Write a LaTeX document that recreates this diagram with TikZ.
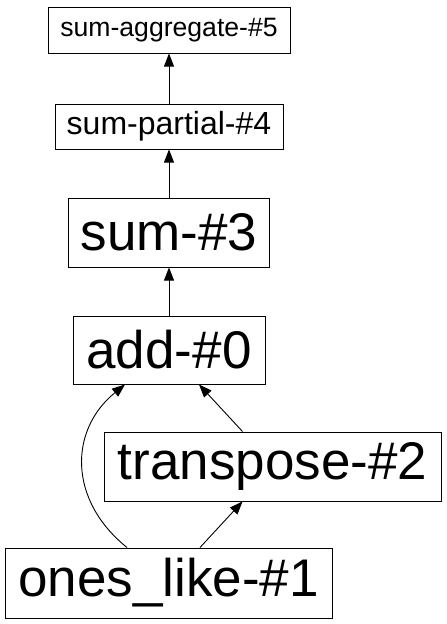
\documentclass[tikz,border=0pt]{standalone}
\usepackage{fontspec}
\setmainfont{Liberation Sans}
\usetikzlibrary{arrows.meta,calc}
\tikzset{
  box/.style={draw, line width=1pt, inner sep=0pt, anchor=center},
  arr/.style={line width=0.9pt, -{Triangle[length=13pt,width=10pt]}},
}
\begin{document}
\begin{tikzpicture}[x=1pt,y=-1pt]
\useasboundingbox (0,0) rectangle (447,624);
\node[box, minimum width=242pt, minimum height=46pt, font=\fontsize{26.6}{27}\selectfont] (n5) at (169,30) {sum-aggregate-\#5};
\node[box, minimum width=228pt, minimum height=45pt, font=\fontsize{32}{32}\selectfont] (n4) at (169,126.5) {sum-partial-\#4};
\node[box, minimum width=201pt, minimum height=69pt, font=\fontsize{53}{53}\selectfont] (n3) at (169,232.5) {sum-\#3};
\node[box, minimum width=192pt, minimum height=68pt, font=\fontsize{53}{53}\selectfont] (n0) at (169,350) {add-\#0};
\node[box, minimum width=337pt, minimum height=69pt, font=\fontsize{53}{53}\selectfont] (n2) at (272.5,466.5) {transpose-\#2};
\node[box, minimum width=327pt, minimum height=70pt, font=\fontsize{53}{53}\selectfont] (n1) at (168.5,583) {ones\_like-\#1};
\draw[arr] (n4.north) -- (n5.south);
\draw[arr] (n3.north) -- (n4.south);
\draw[arr] (n0.north) -- (n3.south);
\draw[arr] ($(n2.north)+(-30,0)$) -- ($(n0.south)+(30,0)$);
\draw[arr] ($(n1.north)+(31.5,0)$) -- ($(n2.south)+(-30,0)$);
\draw[arr] ($(n1.north)+(-41.5,0)$) .. controls (68,500) and (69,430) .. ($(n0.south)+(-44,0)$);
\end{tikzpicture}
\end{document}
